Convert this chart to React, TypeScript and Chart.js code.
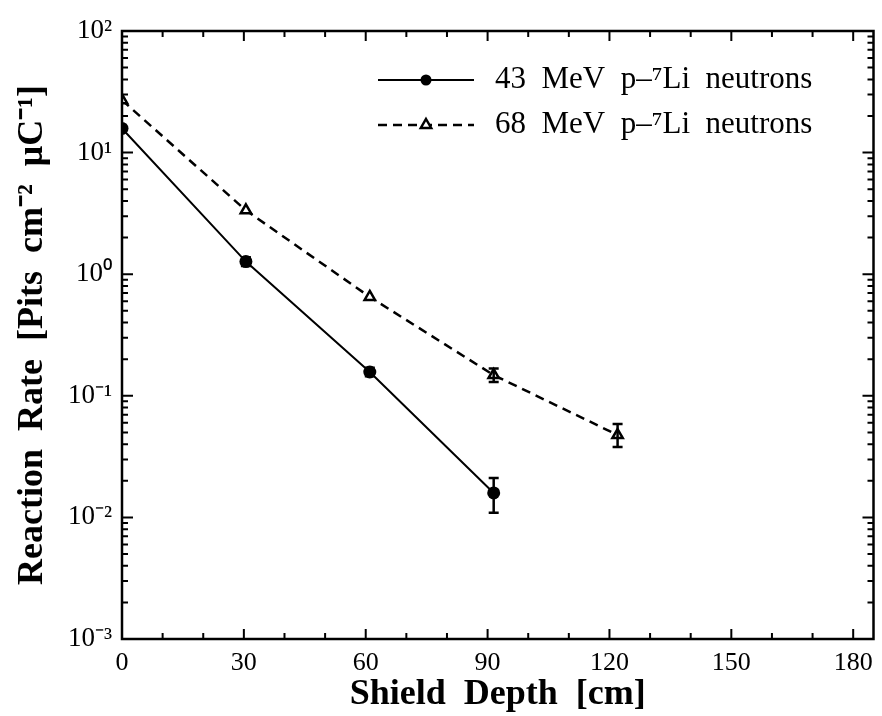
import React, { useEffect, useRef } from "react";
import { Chart, registerables } from "chart.js";

Chart.register(...registerables);

// ---- data ----
const depth43 = [0, 30.5, 61, 91.5];
const rate43 = [15.8, 1.27, 0.157, 0.0159];
const err43Low = [null, 1.17, 0.145, 0.0109];
const err43High = [null, 1.38, 0.17, 0.0211];

const depth68 = [0, 30.5, 61, 91.5, 122];
const rate68 = [27, 3.35, 0.65, 0.148, 0.0476];
const err68Low = [null, null, null, 0.13, 0.0379];
const err68High = [null, null, null, 0.168, 0.0586];

const xTicks = [0, 30, 60, 90, 120, 150, 180];
const xMinorStep = 10;
const yTicks = [1e-3, 1e-2, 1e-1, 1, 10, 100];
const yTickLabels = ["10⁻³", "10⁻²", "10⁻¹", "10⁰", "10¹", "10²"];

const seriesLabels = ["43  MeV  p–⁷Li  neutrons", "68  MeV  p–⁷Li  neutrons"];
const xTitle = "Shield  Depth  [cm]";
const yTitle = "Reaction  Rate  [Pits  cm⁻²  μC⁻¹]";

const SERIF = "'Liberation Serif', 'Times New Roman', serif";

const framePlugin = {
  id: "frame",
  afterDraw(chart: any) {
    const { ctx, chartArea: a, scales } = chart;
    const xs = scales.x;
    const ys = scales.y;
    ctx.save();
    ctx.strokeStyle = "#000";
    ctx.lineWidth = 2.5;
    ctx.setLineDash([]);
    ctx.strokeRect(a.left, a.top, a.right - a.left, a.bottom - a.top);
    ctx.lineWidth = 2;
    for (let v = 0; v <= 180; v += xMinorStep) {
      const px = xs.getPixelForValue(v);
      const len = v % 30 === 0 ? 10 : 6;
      ctx.beginPath();
      ctx.moveTo(px, a.bottom);
      ctx.lineTo(px, a.bottom - len);
      ctx.moveTo(px, a.top);
      ctx.lineTo(px, a.top + len);
      ctx.stroke();
    }
    for (let e = -3; e <= 2; e++) {
      for (let m = 1; m <= 9; m++) {
        const v = m * Math.pow(10, e);
        if (v > 100) break;
        const py = ys.getPixelForValue(v);
        const len = m === 1 ? 11 : 6;
        ctx.beginPath();
        ctx.moveTo(a.left, py);
        ctx.lineTo(a.left + len, py);
        ctx.moveTo(a.right, py);
        ctx.lineTo(a.right - len, py);
        ctx.stroke();
      }
    }
    ctx.restore();
  },
};

const errorBarPlugin = {
  id: "errbars",
  afterDatasetsDraw(chart: any) {
    const { ctx, scales } = chart;
    const sets = [
      { x: depth43, lo: err43Low, hi: err43High },
      { x: depth68, lo: err68Low, hi: err68High },
    ];
    ctx.save();
    ctx.strokeStyle = "#000";
    ctx.lineWidth = 2.5;
    ctx.setLineDash([]);
    sets.forEach((s) => {
      s.x.forEach((xv, i) => {
        const lo = s.lo[i];
        const hi = s.hi[i];
        if (lo == null || hi == null) return;
        const px = scales.x.getPixelForValue(xv);
        const pl = scales.y.getPixelForValue(lo);
        const ph = scales.y.getPixelForValue(hi);
        ctx.beginPath();
        ctx.moveTo(px, pl);
        ctx.lineTo(px, ph);
        ctx.moveTo(px - 5, pl);
        ctx.lineTo(px + 5, pl);
        ctx.moveTo(px - 5, ph);
        ctx.lineTo(px + 5, ph);
        ctx.stroke();
      });
    });
    ctx.restore();
  },
};

const legendPlugin = {
  id: "customLegend",
  afterDraw(chart: any) {
    const { ctx, chartArea: a } = chart;
    const x0 = a.left + 256;
    const x1 = a.left + 352;
    const xm = (x0 + x1) / 2;
    const tx = a.left + 373;
    const rows = [a.top + 49, a.top + 94];
    ctx.save();
    ctx.strokeStyle = "#000";
    ctx.fillStyle = "#000";
    ctx.lineWidth = 2;
    ctx.setLineDash([]);
    ctx.beginPath();
    ctx.moveTo(x0, rows[0]);
    ctx.lineTo(x1, rows[0]);
    ctx.stroke();
    ctx.beginPath();
    ctx.arc(xm, rows[0], 5.5, 0, Math.PI * 2);
    ctx.fill();
    ctx.lineWidth = 2.5;
    ctx.setLineDash([9, 6]);
    ctx.beginPath();
    ctx.moveTo(x0, rows[1]);
    ctx.lineTo(x1, rows[1]);
    ctx.stroke();
    ctx.setLineDash([]);
    const r = 6;
    ctx.beginPath();
    ctx.moveTo(xm, rows[1] - r);
    ctx.lineTo(xm + r * 0.866, rows[1] + r / 2);
    ctx.lineTo(xm - r * 0.866, rows[1] + r / 2);
    ctx.closePath();
    ctx.fillStyle = "#fff";
    ctx.fill();
    ctx.stroke();
    ctx.fillStyle = "#000";
    ctx.font = `31px ${SERIF}`;
    ctx.textBaseline = "middle";
    ctx.textAlign = "left";
    ctx.fillText(seriesLabels[0], tx, rows[0]);
    ctx.fillText(seriesLabels[1], tx, rows[1]);
    ctx.restore();
  },
};

export default function App() {
  const ref = useRef<HTMLCanvasElement | null>(null);

  useEffect(() => {
    if (!ref.current) return;
    const chart = new Chart(ref.current, {
      type: "line",
      data: {
        datasets: [
          {
            label: seriesLabels[0],
            data: depth43.map((x, i) => ({ x, y: rate43[i] })),
            borderColor: "#000",
            backgroundColor: "#000",
            borderWidth: 2,
            pointStyle: "circle",
            pointRadius: 6.5,
            pointBackgroundColor: "#000",
            pointBorderColor: "#000",
            pointBorderWidth: 0,
            tension: 0,
          },
          {
            label: seriesLabels[1],
            data: depth68.map((x, i) => ({ x, y: rate68[i] })),
            borderColor: "#000",
            backgroundColor: "#fff",
            borderWidth: 2.5,
            borderDash: [9, 6],
            pointStyle: "triangle",
            pointRadius: 6,
            pointBackgroundColor: "#fff",
            pointBorderColor: "#000",
            pointBorderWidth: 2.5,
            tension: 0,
          },
        ],
      },
      options: {
        animation: false,
        responsive: false,
        devicePixelRatio: 1,
        layout: { padding: { top: 31, right: 5, left: 0, bottom: 0 } },
        plugins: {
          legend: { display: false },
          tooltip: { enabled: false },
        },
        scales: {
          x: {
            type: "linear",
            min: 0,
            max: 185,
            afterBuildTicks: (s: any) => {
              s.ticks = xTicks.map((v) => ({ value: v }));
            },
            afterFit: (s: any) => {
              s.height = 77;
            },
            grid: { display: false, drawTicks: false },
            border: { display: false },
            ticks: {
              autoSkip: false,
              maxRotation: 0,
              padding: 9,
              color: "#000",
              font: { family: SERIF, size: 26 },
              callback: (v: any) => String(v),
            },
            title: {
              display: true,
              text: xTitle,
              color: "#000",
              font: { family: SERIF, size: 36, weight: "bold" },
              padding: { top: 0, bottom: 0 },
            },
          },
          y: {
            type: "logarithmic",
            min: 1e-3,
            max: 100,
            afterBuildTicks: (s: any) => {
              s.ticks = yTicks.map((v) => ({ value: v }));
            },
            afterFit: (s: any) => {
              s.width = 122;
            },
            grid: { display: false, drawTicks: false },
            border: { display: false },
            ticks: {
              autoSkip: false,
              padding: 10,
              color: "#000",
              font: { family: SERIF, size: 27 },
              callback: (v: any) => {
                const idx = Math.round(Math.log10(Number(v))) + 3;
                return yTickLabels[idx] ?? "";
              },
            },
            title: {
              display: true,
              text: yTitle,
              color: "#000",
              font: { family: SERIF, size: 36, weight: "bold" },
              padding: { top: 11, bottom: 0 },
            },
          },
        },
      },
      plugins: [errorBarPlugin, framePlugin, legendPlugin],
    } as any);
    return () => chart.destroy();
  }, []);

  return (
    <div style={{ position: "fixed", left: 0, top: 0, width: 882, height: 716, background: "#fff" }}>
      <canvas ref={ref} width={882} height={716} style={{ display: "block" }} />
    </div>
  );
}
